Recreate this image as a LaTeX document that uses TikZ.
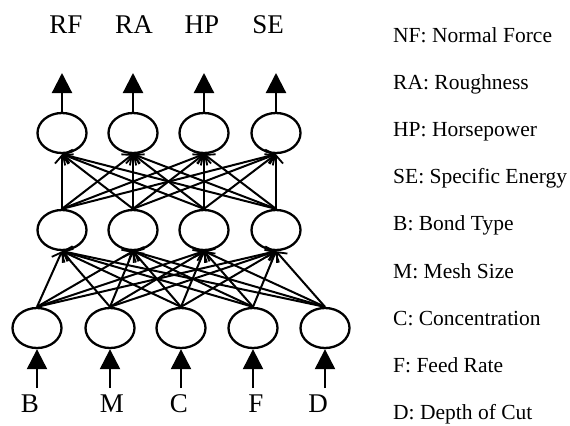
\documentclass[tikz,border=0pt]{standalone}
\usepackage{fontspec}
\setmainfont{Liberation Serif}
\usetikzlibrary{arrows.meta,shapes.geometric}
\begin{document}
\begin{tikzpicture}[x=1bp,y=-1bp,
  neuron/.style={draw,ellipse,minimum width=49bp,minimum height=40bp,inner sep=0pt,line width=2.3bp},
  conn/.style={line width=2bp,-{Straight Barb[length=8bp,width=14bp,line width=1.8bp]}},
  bigarrow/.style={line width=2.2bp,-{Triangle[length=20bp,width=20bp]}},
  lab/.style={anchor=base,inner sep=0pt,font=\fontsize{27bp}{30bp}\selectfont},
  legend/.style={anchor=base west,inner sep=0pt,font=\fontsize{21.5bp}{24bp}\selectfont}]
\useasboundingbox (0,0) rectangle (570,425);
% output layer
\node[neuron] (o1) at (62,133) {};
\node[neuron] (o2) at (133,133) {};
\node[neuron] (o3) at (204,133) {};
\node[neuron] (o4) at (276,133) {};
% hidden layer
\node[neuron] (h1) at (62,230) {};
\node[neuron] (h2) at (133,230) {};
\node[neuron] (h3) at (204,230) {};
\node[neuron] (h4) at (276,230) {};
% input layer
\node[neuron] (i1) at (37,328) {};
\node[neuron] (i2) at (110,328) {};
\node[neuron] (i3) at (181,328) {};
\node[neuron] (i4) at (253,328) {};
\node[neuron] (i5) at (325,328) {};
% connections
\foreach \a in {1,...,5}
  \foreach \b in {1,...,4}
    \draw[conn] (i\a.north) -- (h\b.south);
\foreach \a in {1,...,4}
  \foreach \b in {1,...,4}
    \draw[conn] (h\a.north) -- (o\b.south);
% output arrows
\coordinate (t1) at (62,73);
\coordinate (t2) at (133,73);
\coordinate (t3) at (204,73);
\coordinate (t4) at (276,73);
\foreach \k in {1,...,4} \draw[bigarrow] (o\k.north) -- (t\k);
% input arrows
\coordinate (s1) at (37,388);
\coordinate (s2) at (110,388);
\coordinate (s3) at (181,388);
\coordinate (s4) at (253,388);
\coordinate (s5) at (325,388);
\foreach \k in {1,...,5} \draw[bigarrow] (s\k) -- (i\k.south);
% output labels
\node[lab] (lRF) at (66,33) {RF};
\node[lab] (lRA) at (134,33) {RA};
\node[lab] (lHP) at (202,33) {HP};
\node[lab] (lSE) at (268,33) {SE};
% input labels
\node[lab] (lB) at (30,412) {B};
\node[lab] (lM) at (112,412) {M};
\node[lab] (lC) at (179,412) {C};
\node[lab] (lF) at (256,412) {F};
\node[lab] (lD) at (318,412) {D};
% legend
\node[legend] (g1) at (393,42) {NF: Normal Force};
\node[legend] (g2) at (393,89.2) {RA: Roughness};
\node[legend] (g3) at (393,136.4) {HP: Horsepower};
\node[legend] (g4) at (393,183.6) {SE: Specific Energy};
\node[legend] (g5) at (393,230.8) {B: Bond Type};
\node[legend] (g6) at (393,278) {M: Mesh Size};
\node[legend] (g7) at (393,325.2) {C: Concentration};
\node[legend] (g8) at (393,372.4) {F: Feed Rate};
\node[legend] (g9) at (393,419.6) {D: Depth of Cut};
\end{tikzpicture}
\end{document}
